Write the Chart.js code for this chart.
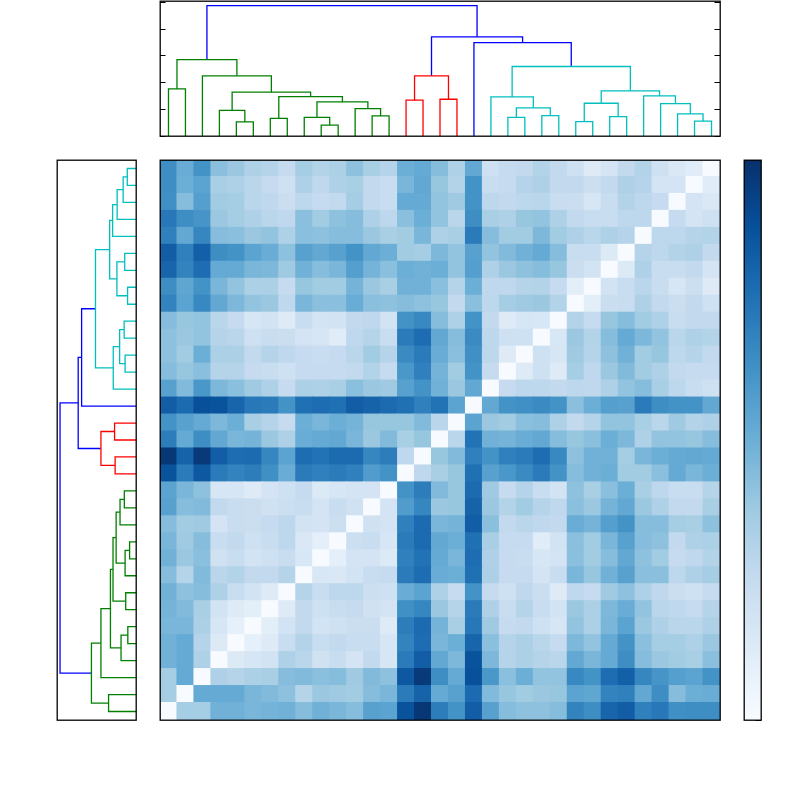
<!DOCTYPE html>
<html>
<head>
<meta charset="utf-8">
<style>
html,body{margin:0;padding:0;background:#fff;width:800px;height:800px;overflow:hidden}
canvas{position:absolute;left:0;top:0}
</style>
<script src="https://cdn.jsdelivr.net/npm/chart.js@4/dist/chart.umd.js"></script>
</head>
<body>
<canvas id="top" width="800" height="800"></canvas>
<canvas id="left" width="800" height="800"></canvas>
<canvas id="heat" width="800" height="800"></canvas>
<canvas id="bar" width="800" height="800"></canvas>
<script>
// Pairwise distances, upper triangle, row 0 is the bottom row of the heatmap.
const distanceRows = [
[0,.17,.17,.235,.235,.225,.23,.235,.21,.235,.225,.21,.27,.265,.42,.47,.34,.30,.40,.27,.21,.20,.20,.21,.33,.31,.385,.40,.335,.35,.305,.31,.31],
[0,.25,.25,.25,.225,.215,.20,.145,.185,.18,.175,.21,.225,.345,.39,.25,.27,.375,.215,.19,.175,.185,.19,.265,.26,.33,.335,.255,.31,.21,.24,.245],
[0,.155,.145,.16,.165,.21,.215,.205,.21,.18,.215,.20,.41,.465,.31,.25,.425,.29,.205,.24,.195,.195,.32,.30,.37,.395,.325,.295,.275,.265,.30],
[0,.065,.08,.09,.155,.14,.095,.115,.085,.125,.08,.345,.40,.255,.22,.42,.22,.145,.16,.145,.14,.255,.225,.25,.31,.21,.185,.175,.165,.205],
[0,.04,.06,.115,.15,.115,.125,.115,.115,.08,.33,.37,.225,.24,.385,.205,.145,.16,.14,.12,.22,.195,.25,.30,.205,.17,.17,.155,.185],
[0,.05,.09,.125,.09,.10,.11,.11,.06,.34,.375,.23,.165,.35,.18,.12,.125,.10,.08,.195,.16,.225,.265,.185,.155,.14,.14,.155],
[0,.06,.125,.10,.115,.12,.095,.085,.305,.325,.185,.145,.345,.155,.115,.145,.115,.09,.185,.16,.22,.245,.195,.14,.13,.12,.145],
[0,.145,.115,.135,.135,.105,.10,.245,.265,.155,.12,.30,.12,.10,.13,.11,.06,.13,.12,.18,.20,.155,.13,.11,.10,.12],
[0,.075,.07,.09,.115,.12,.345,.37,.245,.24,.365,.16,.12,.12,.085,.115,.225,.19,.235,.27,.205,.205,.135,.155,.17],
[0,.045,.085,.085,.065,.335,.36,.25,.225,.37,.155,.12,.115,.08,.085,.205,.175,.21,.255,.20,.175,.12,.13,.15],
[0,.105,.115,.08,.345,.375,.255,.24,.365,.165,.12,.12,.055,.09,.205,.175,.225,.27,.21,.20,.125,.155,.16],
[0,.095,.085,.335,.375,.225,.23,.40,.205,.125,.14,.13,.125,.245,.23,.275,.30,.21,.21,.17,.165,.20],
[0,.085,.28,.325,.185,.19,.39,.185,.15,.175,.145,.13,.205,.185,.23,.255,.185,.155,.125,.125,.165],
[0,.30,.34,.215,.19,.375,.18,.12,.145,.115,.09,.20,.165,.205,.24,.165,.135,.115,.115,.145],
[0,.13,.165,.19,.365,.27,.29,.315,.345,.30,.21,.235,.24,.175,.175,.205,.25,.225,.24],
[0,.19,.215,.335,.30,.335,.345,.37,.32,.20,.235,.235,.17,.225,.24,.25,.255,.25],
[0,.14,.36,.235,.23,.245,.255,.21,.19,.205,.24,.22,.155,.195,.195,.19,.21],
[0,.265,.185,.175,.205,.21,.155,.125,.145,.195,.195,.165,.14,.18,.15,.155],
[0,.255,.30,.305,.315,.30,.205,.24,.275,.27,.345,.31,.30,.30,.255],
[0,.12,.135,.135,.125,.135,.13,.155,.195,.21,.165,.135,.115,.10],
[0,.06,.10,.06,.17,.13,.185,.215,.175,.155,.125,.12,.12],
[0,.10,.08,.18,.145,.20,.235,.175,.19,.135,.145,.125],
[0,.075,.185,.15,.21,.25,.22,.195,.14,.155,.15],
[0,.15,.12,.19,.21,.175,.155,.115,.125,.125],
[0,.05,.11,.115,.155,.125,.11,.125,.10],
[0,.09,.115,.14,.115,.08,.105,.06],
[0,.065,.155,.115,.115,.125,.085],
[0,.145,.135,.15,.155,.125],
[0,.135,.135,.145,.15],
[0,.12,.085,.10],
[0,.085,.07],
[0,.055],
[0]
];

// Dendrogram merges: ids below 33 are leaves, 33 + n is the result of merge n.
const mergeLeft   = [4,3,6,9,8,12,11,37,35,34,2,0,44,14,16,46,20,22,49,19,24,26,53,31,30,29,28,55,52,18,48,45];
const mergeRight  = [5,33,7,10,36,13,38,39,40,41,42,1,43,15,17,47,21,23,50,51,25,27,54,32,56,57,58,59,60,61,62,63];
const mergeHeight = [.0525,.096,.066,.041,.07,.075,.1025,.1275,.1475,.164,.225,.176,.286,.134,.1375,.225,.07,.076,.105,.146,.054,.0725,.1225,.056,.0825,.121,.15,.169,.26,.349,.371,.4875];
const mergeColor  = ['g','g','g','g','g','g','g','g','g','g','g','g','g','r','r','r','c','c','c','c','c','c','c','c','c','c','c','c','c','b','b','b'];

const colorScaleMax = 0.4835;
const dendroTicks = [0, .1, .2, .3, .4, .5];
const colorbarTicks = [0, .05, .1, .15, .2, .25, .3, .35, .4, .45];
const blues = ['#f7fbff','#deebf7','#c6dbef','#9ecae1','#6baed6','#4292c6','#2171b5','#08519c','#08306b'];
const lineColors = {g:'#008000', r:'#ff0000', c:'#00bfbf', b:'#0000ff'};

const n = distanceRows.length;
const font = {family:'"DejaVu Sans"', size:15.3};

function hexRgb(h){return [1,3,5].map(i=>parseInt(h.substr(i,2),16));}
function blueColor(v){
  const t = Math.max(0,Math.min(1,v/colorScaleMax))*(blues.length-1);
  const i = Math.min(blues.length-2,Math.floor(t)), f = t-i;
  const a = hexRgb(blues[i]), b = hexRgb(blues[i+1]);
  return 'rgb('+a.map((c,k)=>Math.round(c+(b[k]-c)*f)).join(',')+')';
}
function cell(r,c){ const a=Math.min(r,c), b=Math.max(r,c); return distanceRows[a][b-a]; }

// dendrogram segments in data space
function linkSegments(){
  const pos=[], hgt=[];
  for(let i=0;i<n;i++){pos[i]=i+.5;hgt[i]=0;}
  return mergeLeft.map((l,m)=>{
    const r=mergeRight[m], h=mergeHeight[m];
    pos[n+m]=(pos[l]+pos[r])/2; hgt[n+m]=h;
    return {color:lineColors[mergeColor[m]],
      pts:[[pos[l],hgt[l]],[pos[l],h],[pos[r],h],[pos[r],hgt[r]]]};
  });
}
const links = linkSegments();

const frame = {id:'frame', afterDraw(chart){
  const a=chart.chartArea, c=chart.ctx;
  c.save(); c.strokeStyle='#000'; c.lineWidth=1.3;
  c.strokeRect(a.left+.2,a.top+.2,a.right-a.left,a.bottom-a.top);
  c.restore();
}};
const zeroFit = s=>{s.width=0;s.paddingTop=0;s.paddingBottom=0;s.paddingLeft=0;s.paddingRight=0;};
const base = {responsive:false, animation:false, devicePixelRatio:1,
  plugins:{legend:{display:false}, tooltip:{enabled:false}, title:{display:false}}};
const pad = (l,t,r,b)=>({padding:{left:l,top:t,right:800-r,bottom:800-b}});
const tickAxis = (values,max,step,extra)=>Object.assign({
  type:'linear', min:0, max:max, afterFit:zeroFit,
  border:{display:false},
  grid:{drawOnChartArea:false, drawTicks:true, tickLength:-5.5, tickColor:'#000', tickWidth:1},
  afterBuildTicks:s=>{s.ticks=values.map(v=>({value:v}));},
  ticks:{font:font, color:'#000', autoSkip:false, maxRotation:0, padding:10.5, stepSize:step, includeBounds:false,
         callback:v=>v.toFixed(1)}
},extra||{});

// top dendrogram
new Chart(document.getElementById('top'),{
  type:'scatter',
  data:{datasets:links.map(k=>({data:k.pts.map(p=>({x:p[0],y:p[1]})), showLine:true, borderColor:k.color, borderWidth:1.3, pointRadius:0, tension:0, fill:false}))},
  options:Object.assign({},base,{layout:pad(160,1,720,136),
    scales:{
      x:{type:'linear',min:0,max:n,display:false},
      y:tickAxis(dendroTicks,.505,.1,{position:'left'}),
      y2:tickAxis(dendroTicks,.505,.1,{position:'right',
        ticks:{display:false}})
    }}),
  plugins:[frame]
});

// left dendrogram
new Chart(document.getElementById('left'),{
  type:'scatter',
  data:{datasets:links.map(k=>({data:k.pts.map(p=>({x:p[1],y:p[0]})), showLine:true, borderColor:k.color, borderWidth:1.3, pointRadius:0, tension:0, fill:false}))},
  options:Object.assign({},base,{layout:pad(57,160,136,720),
    scales:{
      x:{type:'linear',min:0,max:.507,reverse:true,display:false},
      y:{type:'linear',min:0,max:n,display:false}
    }}),
  plugins:[frame]
});

// heatmap: one dataset per row, one floating bar per column
const columns = Array.from({length:n},(_,i)=>String(i));
new Chart(document.getElementById('heat'),{
  type:'bar',
  data:{labels:columns, datasets:distanceRows.map((_,r)=>({
    data:columns.map(()=>[r,r+1.06]),
    backgroundColor:columns.map((_,c)=>blueColor(cell(r,c))),
    borderWidth:0, grouped:false, barPercentage:1.06, categoryPercentage:1
  }))},
  options:Object.assign({},base,{layout:pad(160,160,720,720),
    scales:{
      x:{type:'category',display:false},
      y:{type:'linear',min:0,max:n,display:false}
    }}),
  plugins:[frame]
});

// colour bar
const levels = Array.from({length:256},(_,i)=>i);
new Chart(document.getElementById('bar'),{
  type:'bar',
  data:{labels:['c'], datasets:levels.map(i=>({
    data:[[i/256*colorScaleMax,(i+1.6)/256*colorScaleMax]],
    backgroundColor:blueColor((i+.5)/256*colorScaleMax),
    borderWidth:0, grouped:false, barPercentage:1, categoryPercentage:1
  }))},
  options:Object.assign({},base,{layout:pad(744,160,761,720),
    scales:{
      x:{type:'category',display:false},
      y:(()=>{const a=tickAxis(colorbarTicks,colorScaleMax,.05,{position:'right'});
        a.ticks=Object.assign({},a.ticks,{padding:9.5,callback:v=>v.toFixed(2)});return a;})()
    }}),
  plugins:[frame]
});
</script>
</body>
</html>
